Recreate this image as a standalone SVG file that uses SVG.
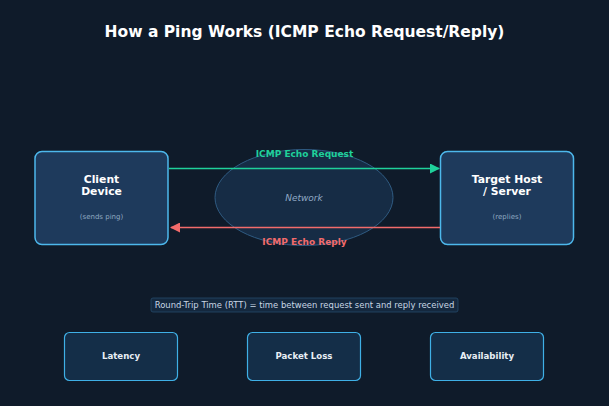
<svg xmlns="http://www.w3.org/2000/svg" width="609" height="406" viewBox="0 0 609 406">
<style>
text{font-family:"DejaVu Sans",Verdana,sans-serif;text-anchor:middle}
.main{fill:#1e3a5c;stroke:#4db8ec;stroke-width:1.5}
.metric{fill:#142e48;stroke:#3fb0e6;stroke-width:1.2}
.t{fill:#ffffff;font-weight:bold;font-size:10.8px}
.sub{fill:#8fa8c0;font-size:7px}
.m{fill:#e8eef5;font-weight:bold;font-size:8.6px}
</style>
<defs>
<marker id="ag" viewBox="0 0 10 10" refX="9" refY="5" markerWidth="10" markerHeight="10" markerUnits="userSpaceOnUse" orient="auto"><path d="M0,0L10,5L0,10z" fill="#1fd19b"/></marker>
<marker id="ar" viewBox="0 0 10 10" refX="9" refY="5" markerWidth="10" markerHeight="10" markerUnits="userSpaceOnUse" orient="auto"><path d="M0,0L10,5L0,10z" fill="#f26b6b"/></marker>
</defs>
<rect width="609" height="406" fill="#0f1b2a"/>
<text x="304.5" y="37" fill="#ffffff" font-weight="bold" font-size="15.5px">How a Ping Works (ICMP Echo Request/Reply)</text>
<g id="network">
<ellipse cx="304" cy="197.5" rx="89" ry="48" fill="#172f4a" fill-opacity="0.85" stroke="#2f5b82" stroke-width="1"/>
<text x="304" y="201" fill="#8fa8c4" font-size="9px" font-style="italic">Network</text>
</g>
<g id="client">
<rect class="main" x="35" y="151.5" width="133" height="93" rx="7"/>
<text class="t" x="101.5" y="183">Client</text>
<text class="t" x="101.5" y="195">Device</text>
<text class="sub" x="101.5" y="219">(sends ping)</text>
</g>
<g id="target">
<rect class="main" x="440.5" y="151.5" width="133" height="93" rx="7"/>
<text class="t" x="507" y="183">Target Host</text>
<text class="t" x="507" y="195">/ Server</text>
<text class="sub" x="507" y="219">(replies)</text>
</g>
<g id="connectors">
<line x1="169" y1="168.5" x2="439" y2="168.5" stroke="#1fd19b" stroke-width="1.5" marker-end="url(#ag)"/>
<text x="304.5" y="157" fill="#1fd19b" font-weight="bold" font-size="9px">ICMP Echo Request</text>
<line x1="440" y1="227.5" x2="171" y2="227.5" stroke="#f26b6b" stroke-width="1.5" marker-end="url(#ar)"/>
<text x="304.5" y="244.5" fill="#f26b6b" font-weight="bold" font-size="9px">ICMP Echo Reply</text>
</g>
<g id="rtt">
<rect x="151" y="298" width="307" height="14" rx="2" fill="#14283e" stroke="#25496a" stroke-width="0.8"/>
<text x="304.5" y="308" fill="#c8d6e4" font-size="8.45px">Round-Trip Time (RTT) = time between request sent and reply received</text>
</g>
<g id="latency">
<rect class="metric" x="64.5" y="332.5" width="113" height="48" rx="5"/>
<text class="m" x="121" y="359">Latency</text>
</g>
<g id="packetloss">
<rect class="metric" x="247.5" y="332.5" width="113" height="48" rx="5"/>
<text class="m" x="304" y="359">Packet Loss</text>
</g>
<g id="availability">
<rect class="metric" x="430.5" y="332.5" width="113" height="48" rx="5"/>
<text class="m" x="487" y="359">Availability</text>
</g>
</svg>
